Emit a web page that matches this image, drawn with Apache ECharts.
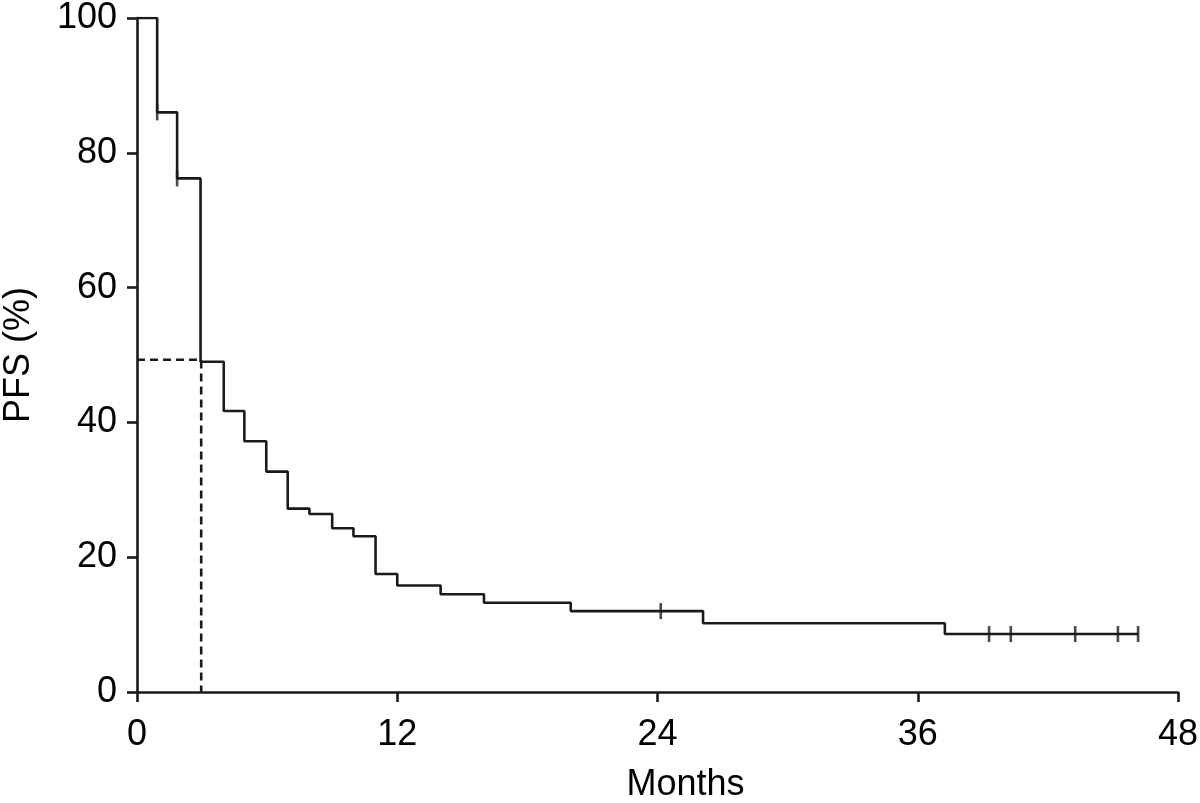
<!DOCTYPE html>
<html>
<head>
<meta charset="utf-8">
<script src="https://cdn.jsdelivr.net/npm/echarts@6/dist/echarts.min.js"></script>
<style>
html,body{margin:0;padding:0;background:#fff;}
#chart{width:1200px;height:803px;}
</style>
</head>
<body>
<div id="chart"></div>
<script>
// Kaplan–Meier step data (months, PFS %)
const stepTimes = [0, 0.93, 1.85, 2.93, 4.0, 4.95, 5.96, 6.95, 7.95, 9.0, 9.98, 11.0, 12.0, 14.0, 16.0, 20.0, 26.1, 37.25, 46.16];
const stepSurv  = [100, 86.0, 76.2, 49.0, 41.7, 37.2, 32.7, 27.2, 26.4, 24.3, 23.1, 17.5, 15.8, 14.5, 13.25, 12.0, 10.2, 8.6, 8.6];
// censored observations
const censorTimes = [0.93, 1.85, 24.15, 39.29, 40.29, 43.26, 45.23, 46.16];
const censorSurv  = [86.0, 76.2, 12.0, 8.6, 8.6, 8.6, 8.6, 8.6];
// median PFS guide
const medianTime = 2.96;
const medianLevel = 49.3;
// axis ticks
const xTicks = [0, 12, 24, 36, 48];
const yTicks = [0, 20, 40, 60, 80, 100];

const font = "'Liberation Sans', Arial, Helvetica, sans-serif";
const ink = '#1a1a1a';
const lw = 2.6;

const stepData = stepTimes.map((t, i) => [t, stepSurv[i]]);
const censorData = censorTimes.map((t, i) => [t, censorSurv[i]]);
const medianData = [[0, medianLevel], [medianTime, medianLevel], [medianTime, 0]];

const chart = echarts.init(document.getElementById('chart'), null, {renderer: 'canvas'});
chart.setOption({
  animation: false,
  backgroundColor: '#fff',
  grid: {left: 137, right: 22, top: 18, bottom: 111, containLabel: false, outerBoundsMode: 'none'},
  xAxis: {
    type: 'value',
    min: xTicks[0], max: xTicks[xTicks.length - 1], interval: 12,
    name: 'Months',
    nameLocation: 'middle',
    nameGap: 75,
    nameTextStyle: {fontFamily: font, fontSize: 36, color: '#000', padding: [0, 0, 0, 56]},
    axisLine: {lineStyle: {color: ink, width: lw}},
    axisTick: {show: true, inside: false, length: 10, lineStyle: {color: ink, width: lw}},
    axisLabel: {fontFamily: font, fontSize: 36, color: '#000', margin: 25},
    splitLine: {show: false}
  },
  yAxis: {
    type: 'value',
    min: yTicks[0], max: yTicks[yTicks.length - 1], interval: 20,
    name: 'PFS (%)',
    nameLocation: 'middle',
    nameGap: 100,
    nameTextStyle: {fontFamily: font, fontSize: 36, color: '#000'},
    axisLine: {lineStyle: {color: ink, width: lw}},
    axisTick: {show: true, inside: false, length: 10, lineStyle: {color: ink, width: lw}},
    axisLabel: {fontFamily: font, fontSize: 36, color: '#000', margin: 20},
    splitLine: {show: false}
  },
  series: [
    {
      type: 'line',
      data: medianData,
      showSymbol: false,
      lineStyle: {color: ink, width: lw, type: [8, 5]},
      silent: true,
      z: 1
    },
    {
      type: 'line',
      step: 'end',
      data: stepData,
      showSymbol: false,
      lineStyle: {color: ink, width: lw},
      silent: true,
      z: 2
    },
    {
      type: 'scatter',
      data: censorData,
      symbol: 'rect',
      symbolSize: [lw, 16],
      itemStyle: {color: ink},
      silent: true,
      z: 3
    }
  ]
});
</script>
</body>
</html>
